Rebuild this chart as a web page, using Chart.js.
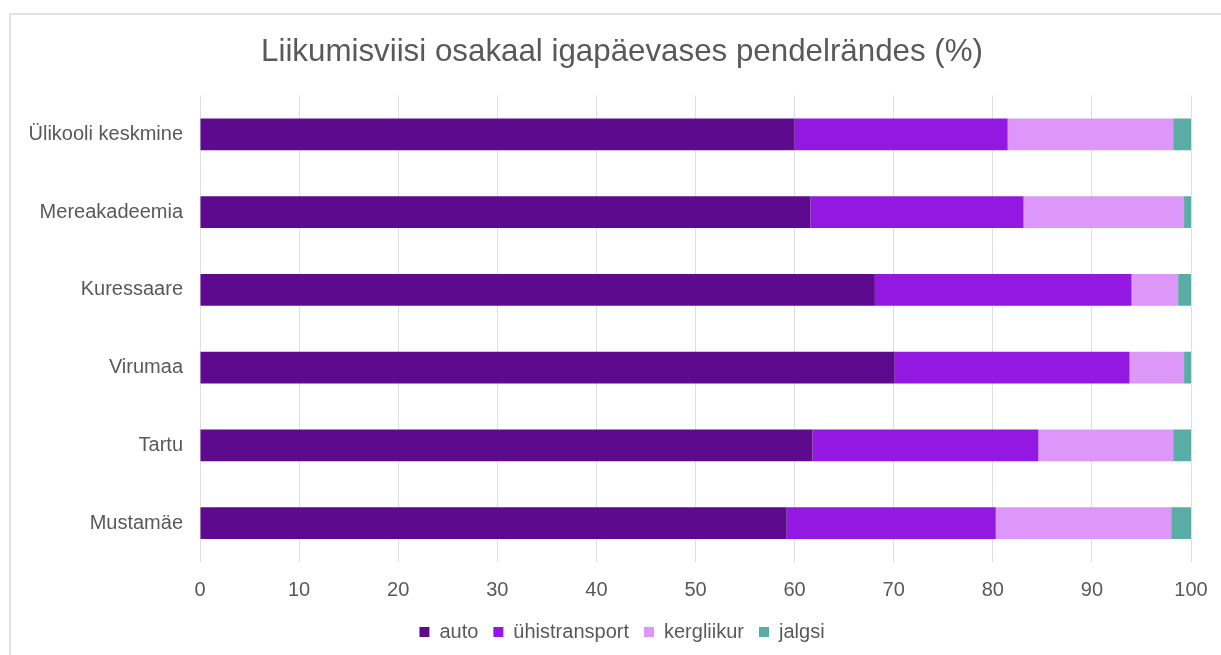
<!DOCTYPE html>
<html>
<head>
<meta charset="utf-8">
<script src="https://cdn.jsdelivr.net/npm/chart.js@4"></script>
<style>
  html, body { margin: 0; padding: 0; background: #fff; }
  #frame {
    position: absolute; left: 9px; top: 13px; width: 1300px; height: 700px;
    border-left: 2px solid #e2e2e2; border-top: 2px solid #e2e2e2;
  }
  #wrap { position: absolute; left: 0; top: 0; width: 1221px; height: 655px; }
</style>
</head>
<body>
<div id="frame"></div>
<div id="wrap"><canvas id="chart"></canvas></div>
<script>
const categories = ["Ülikooli keskmine", "Mereakadeemia", "Kuressaare", "Virumaa", "Tartu", "Mustamäe"];
const auto = [60.0, 61.6, 68.1, 70.1, 61.8, 59.2];
const yhistransport = [21.5, 21.5, 25.9, 23.7, 22.8, 21.1];
const kergliikur = [16.7, 16.2, 4.7, 5.5, 13.6, 17.7];
const jalgsi = [1.8, 0.7, 1.3, 0.7, 1.8, 2.0];
const xTicks = [0, 10, 20, 30, 40, 50, 60, 70, 80, 90, 100];

// long y labels spill left of the axis box, so widen its clip area
const unclipLabels = {
  id: "unclipLabels",
  afterLayout(chart) {
    chart.scales.y.left = 0;
  },
};

function createStackedChart(canvasId) {
  const canvas = document.getElementById(canvasId);
  if (!canvas) {
    console.error(`Canvas element with id "${canvasId}" not found.`);
    return;
  }
  const font = "'Liberation Sans', Arial, sans-serif";
  const bar = { barPercentage: 0.82, categoryPercentage: 0.5, borderWidth: 0 };
  new Chart(canvas, {
    type: "bar",
    data: {
      labels: categories,
      datasets: [
        { label: "auto", data: auto, backgroundColor: "#5e0a8f", ...bar },
        { label: "ühistransport", data: yhistransport, backgroundColor: "#9318e1", ...bar },
        { label: "kergliikur", data: kergliikur, backgroundColor: "#dd97f9", ...bar },
        { label: "jalgsi", data: jalgsi, backgroundColor: "#5aada4", ...bar },
      ],
    },
    plugins: [unclipLabels],
    options: {
      indexAxis: "y",
      responsive: true,
      maintainAspectRatio: false,
      animation: false,
      layout: { padding: { left: 53, right: 30, top: 0, bottom: 3 } },
      plugins: {
        title: {
          display: true,
          text: "Liikumisviisi osakaal igapäevases pendelrändes (%)",
          color: "#595959",
          font: { family: font, size: 31.3, weight: "normal" },
          padding: { top: 34, bottom: 24 },
        },
        legend: {
          position: "bottom",
          labels: {
            color: "#595959",
            font: { family: font, size: 20 },
            boxWidth: 10,
            boxHeight: 10,
            padding: 15,
          },
        },
        tooltip: { enabled: false },
      },
      scales: {
        x: {
          stacked: true,
          min: 0,
          max: 100,
          afterBuildTicks: (s) => { s.ticks = xTicks.map((v) => ({ value: v })); },
          afterFit: (s) => {
            s.height = 45;
            s.paddingLeft = 0;
            s.paddingRight = 0;
          },
          ticks: { color: "#595959", font: { family: font, size: 20 }, padding: 16 },
          grid: { color: "#dedede", drawTicks: false },
          border: { display: false },
        },
        y: {
          stacked: true,
          afterFit: (s) => { s.width = 147; },
          ticks: { color: "#595959", font: { family: font, size: 20 }, padding: 17 },
          grid: { display: false, drawTicks: false },
          border: { display: false },
        },
      },
    },
  });
}
createStackedChart("chart");
</script>
</body>
</html>
